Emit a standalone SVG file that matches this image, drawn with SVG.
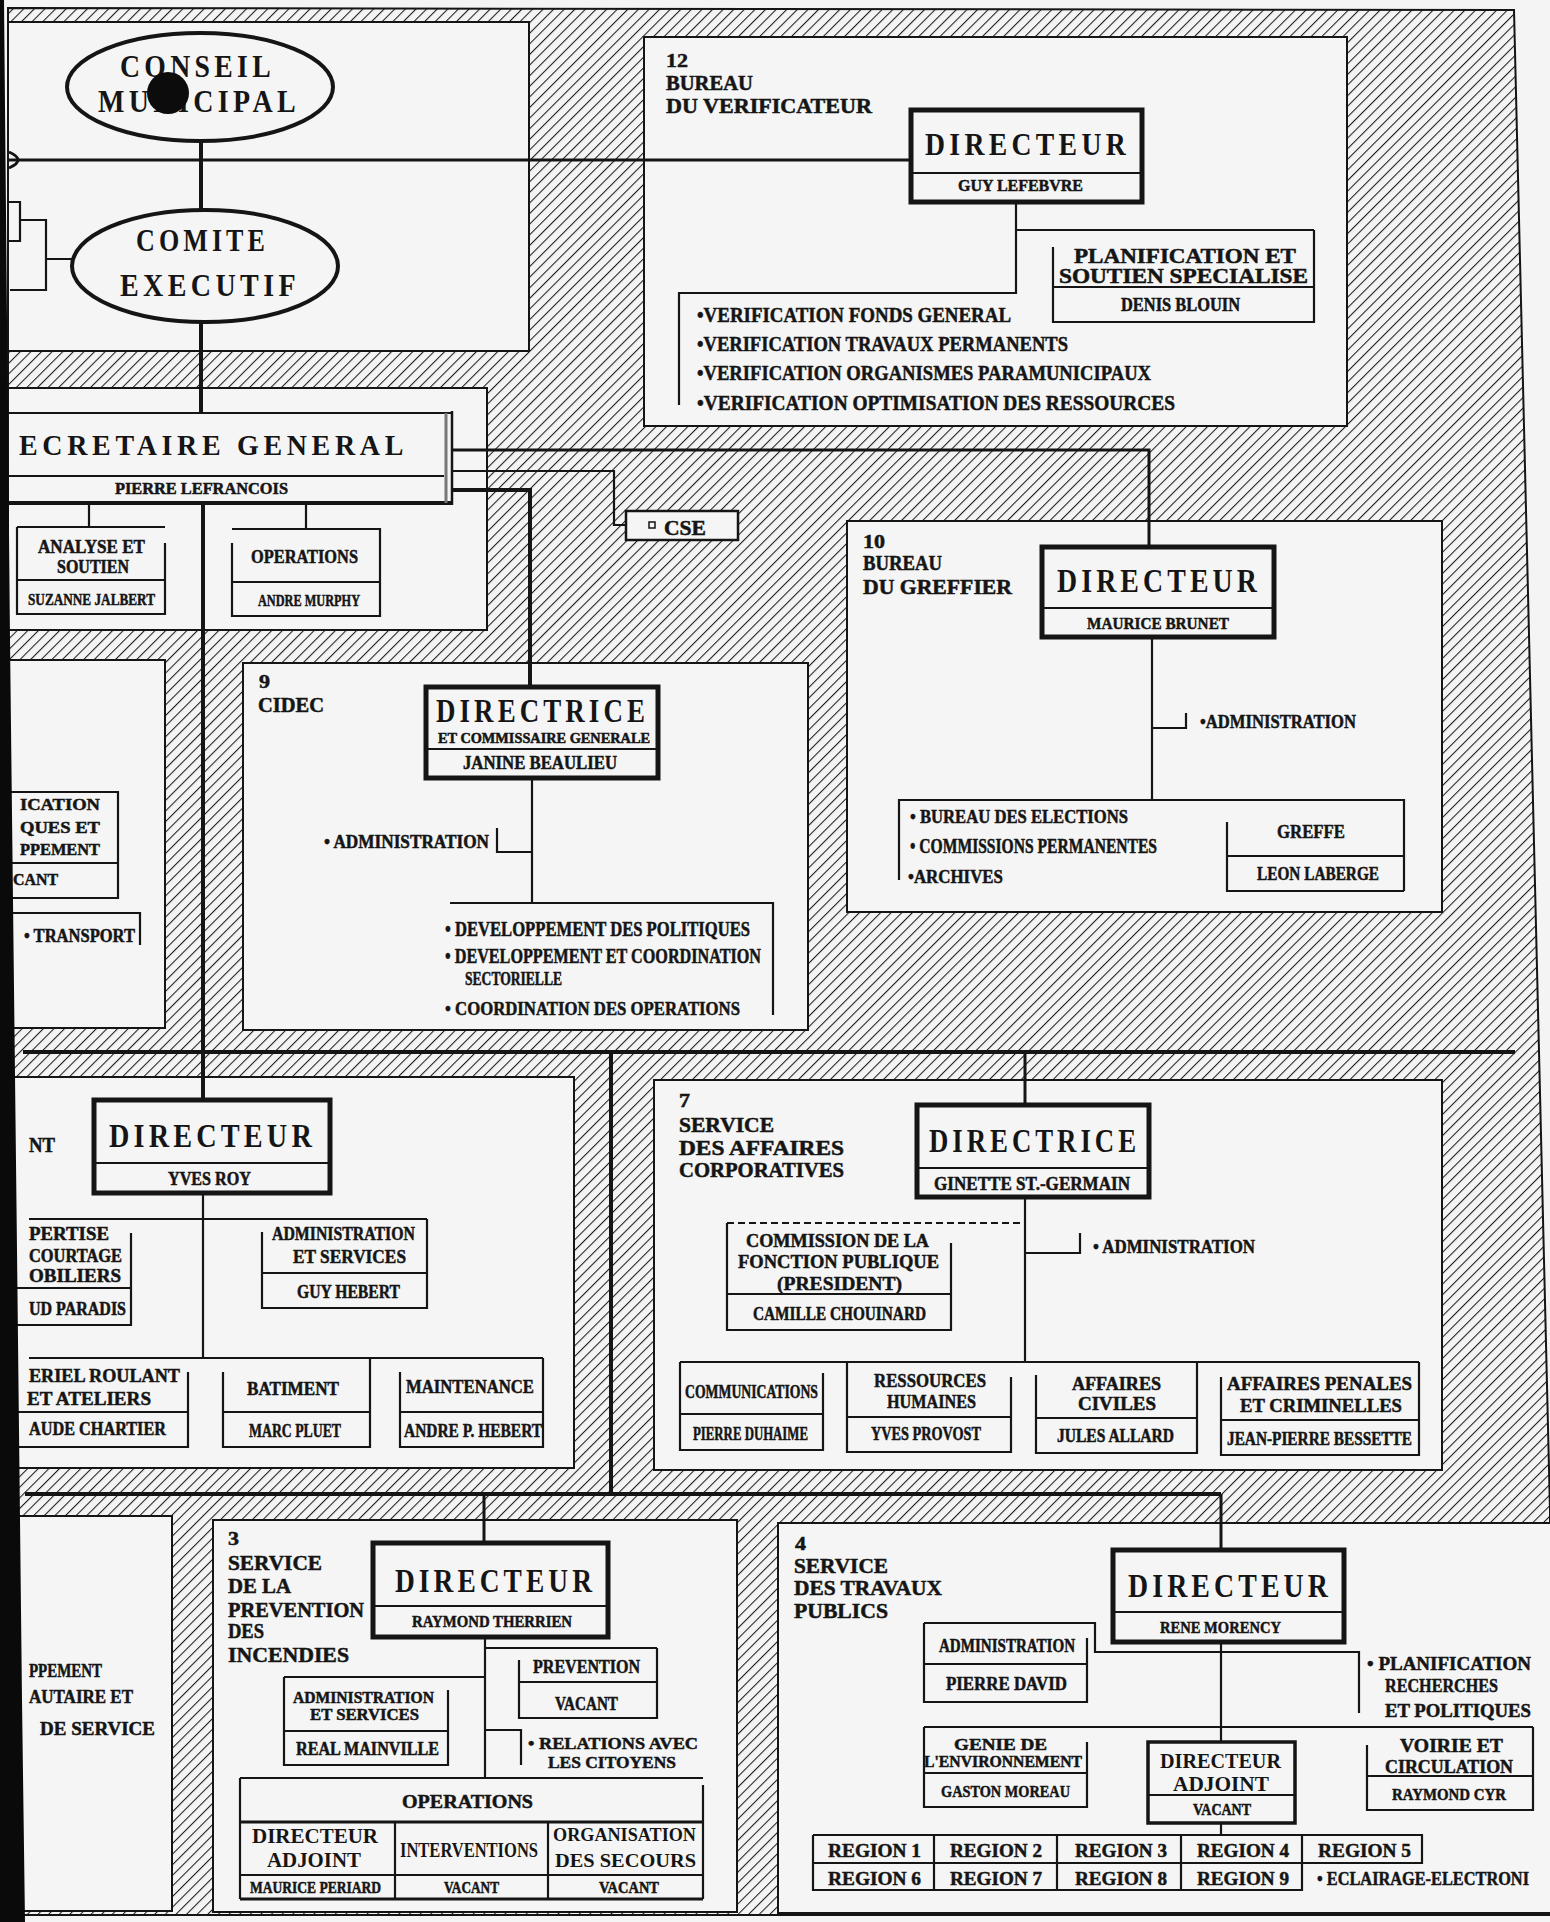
<svg xmlns="http://www.w3.org/2000/svg" width="1550" height="1922" viewBox="0 0 1550 1922">
<defs>
<pattern id="hatch" width="7.5" height="7.5" patternUnits="userSpaceOnUse" patternTransform="rotate(45)">
<line x1="0" y1="-1" x2="0" y2="9" stroke="#1c1c1c" stroke-width="2.1"/>
</pattern>
<style>
.t{font-family:"Liberation Serif","DejaVu Serif",serif;font-weight:bold;fill:#151515}
.bg{letter-spacing:5px}
.s{stroke:#151515;stroke-width:0.5}
.ln{fill:none;stroke:#151515;stroke-width:2.2}
.th{fill:none;stroke:#151515;stroke-width:4}
.md{fill:none;stroke:#151515;stroke-width:3}
.bx{fill:none;stroke:#151515;stroke-width:5}
.pn{fill:#f5f5f5;stroke:#151515;stroke-width:2}
.dash{fill:none;stroke:#151515;stroke-width:2.2;stroke-dasharray:7 4}
</style>
</defs>
<rect x="0" y="0" width="1550" height="1922" fill="#f4f4f4"/>
<g id="background">
<polygon points="8,8 1514,10 1550,1510 1550,1915 8,1915" fill="url(#hatch)" stroke="#151515" stroke-width="2"/>
<rect id="panel-council" class="pn" x="8" y="22" width="521" height="329"/>
<rect id="panel-12" class="pn" x="644" y="37" width="703" height="389"/>
<rect id="panel-secretariat" class="pn" x="8" y="388" width="479" height="242"/>
<rect id="panel-10" class="pn" x="847" y="521" width="595" height="391"/>
<rect id="panel-left" class="pn" x="8" y="660" width="157" height="368"/>
<rect id="panel-9" class="pn" x="243" y="663" width="565" height="367"/>
<rect id="panel-yvesroy" class="pn" x="8" y="1077" width="566" height="391"/>
<rect id="panel-7" class="pn" x="654" y="1080" width="788" height="390"/>
<rect id="panel-bottomleft" class="pn" x="8" y="1516" width="164" height="395"/>
<rect id="panel-3" class="pn" x="213" y="1520" width="524" height="392"/>
<rect id="panel-4" class="pn" x="778" y="1523" width="780" height="390"/>
</g>

<g id="connectors">
<path class="th" d="M201 141 V210 M201 322 V413"/>
<path class="md" d="M8 160 H911"/>
<path class="md" d="M9 152 Q27 160 9 168"/>
<path class="ln" d="M8 202 H20 V241 H8 M20 220 H46 V290 H10 M46 259 H73"/>
<path class="th" d="M203 503 V1100"/>
<path class="md" d="M453 450 H1149 V547"/>
<path class="ln" d="M453 471 H614 V525 H626"/>
<path class="th" d="M453 490 H530 V687"/>
<path class="th" d="M23 1052 H1515"/>
<path class="th" d="M611 1052 V1494"/>
<path class="md" d="M1025 1052 V1105"/>
<path class="th" d="M25 1494 H1221"/>
<path class="md" d="M484 1494 V1543"/>
<path class="md" d="M1221 1494 V1550"/>
<path class="ln" d="M1016 202 V293 H679 V405 M1016 230 H1314"/>
<path class="ln" d="M1152 637 V800 M1152 728 H1186 V713 M899 880 V800 H1404 V891"/>
<path class="ln" d="M532 778 V903 M532 852 H497 V828 M450 903 H773 V1015"/>
<path class="ln" d="M203 1193 V1358 M29 1219 H427 M29 1358 H543"/>
<path class="ln" d="M1025 1197 V1362 M1025 1253 H1080 V1233 M680 1362 H1419"/>
<path class="dash" d="M727 1223 H1025"/>
<path class="ln" d="M485 1637 V1778 M485 1648 H657 M485 1677 H284 M485 1730 H521 V1765"/>
<path class="ln" d="M924 1623 H1095 V1652 H1359 V1713 M1221 1642 V1742 M924 1727 H1533 M1221 1823 V1835"/>
</g>

<g id="conseil-municipal">
<ellipse cx="200" cy="87" rx="133" ry="54" fill="#f5f5f5" stroke="#151515" stroke-width="4"/>
<text class="t bg" x="120" y="77" font-size="32" textLength="155" lengthAdjust="spacingAndGlyphs">CONSEIL</text>
<text class="t bg" x="98" y="112" font-size="32" textLength="202" lengthAdjust="spacingAndGlyphs">MUNICIPAL</text>
<circle cx="168" cy="93" r="21" fill="#0c0c0c"/>
</g>
<g id="comite-executif">
<ellipse cx="205" cy="266" rx="133" ry="56" fill="#f5f5f5" stroke="#151515" stroke-width="4"/>
<text class="t bg" x="136" y="251" font-size="32" textLength="133" lengthAdjust="spacingAndGlyphs">COMITE</text>
<text class="t bg" x="120" y="296" font-size="32" textLength="180" lengthAdjust="spacingAndGlyphs">EXECUTIF</text>
</g>

<g id="secretaire-general">
<path class="ln" d="M8 413 H451 M8 476 H444"/>
<path d="M8 503 H452" class="th"/>
<path d="M446 413 V503" stroke="#777" stroke-width="3" fill="none"/>
<path d="M452 411 V505" stroke="#151515" stroke-width="2.5" fill="none"/>
<text class="t bg" x="19" y="455" font-size="30" textLength="389" lengthAdjust="spacingAndGlyphs">ECRETAIRE GENERAL</text>
<text class="t s" x="115" y="494" font-size="16" textLength="173" lengthAdjust="spacingAndGlyphs">PIERRE LEFRANCOIS</text>
</g>
<g id="analyse-soutien">
<path class="ln" d="M89 503 V527 M17 527 H165 M165 543 V614 H17 V527 M17 580 H165"/>
<text class="t s" x="38" y="553" font-size="18" textLength="107" lengthAdjust="spacingAndGlyphs">ANALYSE ET</text>
<text class="t s" x="57" y="573" font-size="18" textLength="72" lengthAdjust="spacingAndGlyphs">SOUTIEN</text>
<text class="t s" x="28" y="605" font-size="17" textLength="127" lengthAdjust="spacingAndGlyphs">SUZANNE JALBERT</text>
</g>
<g id="operations-sg">
<path class="ln" d="M306 503 V529 M232 529 H380 V616 H232 V543 M232 582 H380"/>
<text class="t s" x="251" y="563" font-size="19" textLength="107" lengthAdjust="spacingAndGlyphs">OPERATIONS</text>
<text class="t s" x="258" y="606" font-size="17" textLength="102" lengthAdjust="spacingAndGlyphs">ANDRE MURPHY</text>
</g>
<g id="cse">
<rect x="626" y="511" width="112" height="29" fill="#f5f5f5" stroke="#151515" stroke-width="2.5"/>
<rect x="649" y="522" width="6" height="6" fill="none" stroke="#151515" stroke-width="1.5"/>
<text class="t s" x="664" y="535" font-size="20" textLength="42" lengthAdjust="spacingAndGlyphs">CSE</text>
</g>

<g id="bureau-verificateur">
<text class="t s" x="666" y="67" font-size="19" textLength="22" lengthAdjust="spacingAndGlyphs">12</text>
<text class="t s" x="666" y="90" font-size="20" textLength="87" lengthAdjust="spacingAndGlyphs">BUREAU</text>
<text class="t s" x="666" y="113" font-size="20" textLength="206" lengthAdjust="spacingAndGlyphs">DU VERIFICATEUR</text>
<text class="t s" x="697" y="322" font-size="21" textLength="314" lengthAdjust="spacingAndGlyphs">•VERIFICATION FONDS GENERAL</text>
<text class="t s" x="697" y="351" font-size="21" textLength="371" lengthAdjust="spacingAndGlyphs">•VERIFICATION TRAVAUX PERMANENTS</text>
<text class="t s" x="697" y="380" font-size="21" textLength="454" lengthAdjust="spacingAndGlyphs">•VERIFICATION ORGANISMES PARAMUNICIPAUX</text>
<text class="t s" x="697" y="410" font-size="21" textLength="478" lengthAdjust="spacingAndGlyphs">•VERIFICATION OPTIMISATION DES RESSOURCES</text>
</g>
<g id="directeur-12">
<rect class="bx" x="911" y="110" width="231" height="92" fill="#f5f5f5"/>
<path class="ln" d="M911 173 H1142"/>
<text class="t bg" x="925" y="155" font-size="32" textLength="205" lengthAdjust="spacingAndGlyphs">DIRECTEUR</text>
<text class="t s" x="958" y="191" font-size="17" textLength="125" lengthAdjust="spacingAndGlyphs">GUY LEFEBVRE</text>
</g>
<g id="planification-soutien">
<path class="ln" d="M1053 247 V322 H1314 V230 M1053 287 H1314"/>
<text class="t s" x="1074" y="263" font-size="20" textLength="222" lengthAdjust="spacingAndGlyphs">PLANIFICATION ET</text>
<text class="t s" x="1059" y="283" font-size="20" textLength="249" lengthAdjust="spacingAndGlyphs">SOUTIEN SPECIALISE</text>
<text class="t s" x="1121" y="311" font-size="18" textLength="119" lengthAdjust="spacingAndGlyphs">DENIS BLOUIN</text>
</g>

<g id="bureau-greffier">
<text class="t s" x="863" y="548" font-size="19" textLength="22" lengthAdjust="spacingAndGlyphs">10</text>
<text class="t s" x="863" y="570" font-size="20" textLength="79" lengthAdjust="spacingAndGlyphs">BUREAU</text>
<text class="t s" x="863" y="594" font-size="20" textLength="149" lengthAdjust="spacingAndGlyphs">DU GREFFIER</text>
<text class="t s" x="1200" y="728" font-size="19" textLength="156" lengthAdjust="spacingAndGlyphs">•ADMINISTRATION</text>
<text class="t s" x="910" y="823" font-size="19" textLength="218" lengthAdjust="spacingAndGlyphs">• BUREAU DES ELECTIONS</text>
<text class="t s" x="910" y="853" font-size="20" textLength="247" lengthAdjust="spacingAndGlyphs">• COMMISSIONS PERMANENTES</text>
<text class="t s" x="908" y="883" font-size="19" textLength="95" lengthAdjust="spacingAndGlyphs">•ARCHIVES</text>
</g>
<g id="directeur-10">
<rect class="bx" x="1042" y="547" width="232" height="90" fill="#f5f5f5"/>
<path class="ln" d="M1042 608 H1274"/>
<text class="t bg" x="1057" y="592" font-size="34" textLength="204" lengthAdjust="spacingAndGlyphs">DIRECTEUR</text>
<text class="t s" x="1087" y="629" font-size="17" textLength="142" lengthAdjust="spacingAndGlyphs">MAURICE BRUNET</text>
</g>
<g id="greffe">
<path class="ln" d="M1227 822 V891 H1404 M1227 856 H1404"/>
<text class="t s" x="1277" y="838" font-size="19" textLength="68" lengthAdjust="spacingAndGlyphs">GREFFE</text>
<text class="t s" x="1257" y="880" font-size="19" textLength="122" lengthAdjust="spacingAndGlyphs">LEON LABERGE</text>
</g>

<g id="left-partial">
<path class="ln" d="M8 792 H118 V898 H8 M8 863 H118 M8 913 H140 V945"/>
<text class="t s" x="20" y="810" font-size="17" textLength="80" lengthAdjust="spacingAndGlyphs">ICATION</text>
<text class="t s" x="20" y="833" font-size="17" textLength="80" lengthAdjust="spacingAndGlyphs">QUES ET</text>
<text class="t s" x="20" y="855" font-size="17" textLength="80" lengthAdjust="spacingAndGlyphs">PPEMENT</text>
<text class="t s" x="13" y="885" font-size="17" textLength="45" lengthAdjust="spacingAndGlyphs">CANT</text>
<text class="t s" x="24" y="942" font-size="18" textLength="111" lengthAdjust="spacingAndGlyphs">• TRANSPORT</text>
</g>

<g id="cidec">
<text class="t s" x="259" y="688" font-size="19" textLength="11" lengthAdjust="spacingAndGlyphs">9</text>
<text class="t s" x="258" y="712" font-size="20" textLength="66" lengthAdjust="spacingAndGlyphs">CIDEC</text>
<text class="t s" x="324" y="848" font-size="18" textLength="165" lengthAdjust="spacingAndGlyphs">• ADMINISTRATION</text>
<text class="t s" x="445" y="936" font-size="20" textLength="305" lengthAdjust="spacingAndGlyphs">• DEVELOPPEMENT DES POLITIQUES</text>
<text class="t s" x="445" y="963" font-size="20" textLength="316" lengthAdjust="spacingAndGlyphs">• DEVELOPPEMENT ET COORDINATION</text>
<text class="t s" x="465" y="985" font-size="18" textLength="97" lengthAdjust="spacingAndGlyphs">SECTORIELLE</text>
<text class="t s" x="445" y="1015" font-size="19" textLength="295" lengthAdjust="spacingAndGlyphs">• COORDINATION DES OPERATIONS</text>
</g>
<g id="directrice-9">
<rect class="bx" x="426" y="687" width="232" height="91" fill="#f5f5f5"/>
<path class="ln" d="M426 749 H658"/>
<text class="t bg" x="436" y="722" font-size="33" textLength="213" lengthAdjust="spacingAndGlyphs">DIRECTRICE</text>
<text class="t s" x="438" y="743" font-size="14" textLength="212" lengthAdjust="spacingAndGlyphs">ET COMMISSAIRE GENERALE</text>
<text class="t s" x="463" y="769" font-size="18" textLength="154" lengthAdjust="spacingAndGlyphs">JANINE BEAULIEU</text>
</g>

<g id="service-yvesroy">
<text class="t s" x="29" y="1152" font-size="20" textLength="26" lengthAdjust="spacingAndGlyphs">NT</text>
</g>
<g id="directeur-yvesroy">
<rect class="bx" x="94" y="1100" width="236" height="93" fill="#f5f5f5"/>
<path class="ln" d="M94 1163 H330"/>
<text class="t bg" x="109" y="1147" font-size="34" textLength="207" lengthAdjust="spacingAndGlyphs">DIRECTEUR</text>
<text class="t s" x="168" y="1185" font-size="18" textLength="83" lengthAdjust="spacingAndGlyphs">YVES ROY</text>
</g>
<g id="expertise-courtage">
<path class="ln" d="M131 1233 V1325 H8 M8 1288 H131"/>
<text class="t s" x="29" y="1240" font-size="18" textLength="80" lengthAdjust="spacingAndGlyphs">PERTISE</text>
<text class="t s" x="29" y="1262" font-size="18" textLength="93" lengthAdjust="spacingAndGlyphs">COURTAGE</text>
<text class="t s" x="29" y="1282" font-size="18" textLength="92" lengthAdjust="spacingAndGlyphs">OBILIERS</text>
<text class="t s" x="29" y="1315" font-size="18" textLength="97" lengthAdjust="spacingAndGlyphs">UD PARADIS</text>
</g>
<g id="administration-services-yr">
<path class="ln" d="M262 1232 V1308 H427 V1219 M262 1273 H427"/>
<text class="t s" x="272" y="1240" font-size="19" textLength="143" lengthAdjust="spacingAndGlyphs">ADMINISTRATION</text>
<text class="t s" x="293" y="1263" font-size="19" textLength="113" lengthAdjust="spacingAndGlyphs">ET SERVICES</text>
<text class="t s" x="297" y="1298" font-size="19" textLength="103" lengthAdjust="spacingAndGlyphs">GUY HEBERT</text>
</g>
<g id="materiel-roulant">
<path class="ln" d="M188 1372 V1447 H8 M8 1412 H188"/>
<text class="t s" x="29" y="1382" font-size="19" textLength="151" lengthAdjust="spacingAndGlyphs">ERIEL ROULANT</text>
<text class="t s" x="27" y="1405" font-size="19" textLength="124" lengthAdjust="spacingAndGlyphs">ET ATELIERS</text>
<text class="t s" x="29" y="1435" font-size="19" textLength="137" lengthAdjust="spacingAndGlyphs">AUDE CHARTIER</text>
</g>
<g id="batiment">
<path class="ln" d="M223 1372 V1447 H370 V1358 M223 1412 H370"/>
<text class="t s" x="247" y="1395" font-size="19" textLength="92" lengthAdjust="spacingAndGlyphs">BATIMENT</text>
<text class="t s" x="249" y="1437" font-size="19" textLength="92" lengthAdjust="spacingAndGlyphs">MARC PLUET</text>
</g>
<g id="maintenance">
<path class="ln" d="M400 1372 V1447 H543 V1358 M400 1412 H543"/>
<text class="t s" x="406" y="1393" font-size="19" textLength="128" lengthAdjust="spacingAndGlyphs">MAINTENANCE</text>
<text class="t s" x="404" y="1437" font-size="19" textLength="138" lengthAdjust="spacingAndGlyphs">ANDRE P. HEBERT</text>
</g>

<g id="service-affaires-corporatives">
<text class="t s" x="679" y="1107" font-size="19" textLength="11" lengthAdjust="spacingAndGlyphs">7</text>
<text class="t s" x="679" y="1132" font-size="20" textLength="95" lengthAdjust="spacingAndGlyphs">SERVICE</text>
<text class="t s" x="679" y="1155" font-size="20" textLength="165" lengthAdjust="spacingAndGlyphs">DES AFFAIRES</text>
<text class="t s" x="679" y="1177" font-size="20" textLength="165" lengthAdjust="spacingAndGlyphs">CORPORATIVES</text>
<text class="t s" x="1093" y="1253" font-size="19" textLength="162" lengthAdjust="spacingAndGlyphs">• ADMINISTRATION</text>
</g>
<g id="directrice-7">
<rect class="bx" x="917" y="1105" width="232" height="92" fill="#f5f5f5"/>
<path class="ln" d="M917 1168 H1149"/>
<text class="t bg" x="929" y="1152" font-size="34" textLength="211" lengthAdjust="spacingAndGlyphs">DIRECTRICE</text>
<text class="t s" x="934" y="1190" font-size="18" textLength="196" lengthAdjust="spacingAndGlyphs">GINETTE ST.-GERMAIN</text>
</g>
<g id="commission-fonction-publique">
<path class="ln" d="M727 1223 V1330 H951 V1243 M727 1294 H951"/>
<text class="t s" x="746" y="1247" font-size="19" textLength="183" lengthAdjust="spacingAndGlyphs">COMMISSION DE LA</text>
<text class="t s" x="738" y="1268" font-size="19" textLength="201" lengthAdjust="spacingAndGlyphs">FONCTION PUBLIQUE</text>
<text class="t s" x="777" y="1290" font-size="19" textLength="125" lengthAdjust="spacingAndGlyphs">(PRESIDENT)</text>
<text class="t s" x="753" y="1320" font-size="19" textLength="173" lengthAdjust="spacingAndGlyphs">CAMILLE CHOUINARD</text>
</g>
<g id="communications">
<path class="ln" d="M680 1362 V1450 H823 V1373 M680 1414 H823"/>
<text class="t s" x="685" y="1398" font-size="18" textLength="133" lengthAdjust="spacingAndGlyphs">COMMUNICATIONS</text>
<text class="t s" x="693" y="1440" font-size="18" textLength="115" lengthAdjust="spacingAndGlyphs">PIERRE DUHAIME</text>
</g>
<g id="ressources-humaines">
<path class="ln" d="M847 1362 V1452 H1011 V1377 M847 1417 H1011"/>
<text class="t s" x="874" y="1387" font-size="19" textLength="112" lengthAdjust="spacingAndGlyphs">RESSOURCES</text>
<text class="t s" x="887" y="1408" font-size="19" textLength="89" lengthAdjust="spacingAndGlyphs">HUMAINES</text>
<text class="t s" x="871" y="1440" font-size="18" textLength="110" lengthAdjust="spacingAndGlyphs">YVES PROVOST</text>
</g>
<g id="affaires-civiles">
<path class="ln" d="M1036 1375 V1453 H1197 V1362 M1036 1418 H1197"/>
<text class="t s" x="1072" y="1390" font-size="18" textLength="89" lengthAdjust="spacingAndGlyphs">AFFAIRES</text>
<text class="t s" x="1078" y="1410" font-size="18" textLength="78" lengthAdjust="spacingAndGlyphs">CIVILES</text>
<text class="t s" x="1057" y="1442" font-size="18" textLength="117" lengthAdjust="spacingAndGlyphs">JULES ALLARD</text>
</g>
<g id="affaires-penales">
<path class="ln" d="M1221 1377 V1455 H1419 V1362 M1221 1420 H1419"/>
<text class="t s" x="1227" y="1390" font-size="19" textLength="185" lengthAdjust="spacingAndGlyphs">AFFAIRES PENALES</text>
<text class="t s" x="1240" y="1412" font-size="19" textLength="162" lengthAdjust="spacingAndGlyphs">ET CRIMINELLES</text>
<text class="t s" x="1227" y="1445" font-size="18" textLength="185" lengthAdjust="spacingAndGlyphs">JEAN-PIERRE BESSETTE</text>
</g>

<g id="bottom-left-partial">
<text class="t s" x="29" y="1677" font-size="19" textLength="73" lengthAdjust="spacingAndGlyphs">PPEMENT</text>
<text class="t s" x="29" y="1703" font-size="19" textLength="104" lengthAdjust="spacingAndGlyphs">AUTAIRE ET</text>
<text class="t s" x="40" y="1735" font-size="19" textLength="115" lengthAdjust="spacingAndGlyphs">DE SERVICE</text>
</g>

<g id="service-prevention-incendies">
<text class="t s" x="228" y="1545" font-size="19" textLength="11" lengthAdjust="spacingAndGlyphs">3</text>
<text class="t s" x="228" y="1570" font-size="20" textLength="94" lengthAdjust="spacingAndGlyphs">SERVICE</text>
<text class="t s" x="228" y="1593" font-size="20" textLength="63" lengthAdjust="spacingAndGlyphs">DE LA</text>
<text class="t s" x="228" y="1617" font-size="20" textLength="136" lengthAdjust="spacingAndGlyphs">PREVENTION</text>
<text class="t s" x="228" y="1638" font-size="20" textLength="36" lengthAdjust="spacingAndGlyphs">DES</text>
<text class="t s" x="228" y="1662" font-size="20" textLength="121" lengthAdjust="spacingAndGlyphs">INCENDIES</text>
<text class="t s" x="528" y="1749" font-size="17" textLength="170" lengthAdjust="spacingAndGlyphs">• RELATIONS AVEC</text>
<text class="t s" x="548" y="1768" font-size="17" textLength="128" lengthAdjust="spacingAndGlyphs">LES CITOYENS</text>
</g>
<g id="directeur-3">
<rect class="bx" x="373" y="1543" width="235" height="94" fill="#f5f5f5"/>
<path class="ln" d="M373 1606 H608"/>
<text class="t bg" x="395" y="1592" font-size="34" textLength="201" lengthAdjust="spacingAndGlyphs">DIRECTEUR</text>
<text class="t s" x="412" y="1627" font-size="17" textLength="160" lengthAdjust="spacingAndGlyphs">RAYMOND THERRIEN</text>
</g>
<g id="prevention">
<path class="ln" d="M519 1660 V1718 H657 V1648 M519 1682 H657"/>
<text class="t s" x="533" y="1673" font-size="19" textLength="107" lengthAdjust="spacingAndGlyphs">PREVENTION</text>
<text class="t s" x="555" y="1710" font-size="19" textLength="63" lengthAdjust="spacingAndGlyphs">VACANT</text>
</g>
<g id="administration-services-3">
<path class="ln" d="M284 1677 V1765 H448 V1690 M284 1731 H448"/>
<text class="t s" x="293" y="1703" font-size="16" textLength="141" lengthAdjust="spacingAndGlyphs">ADMINISTRATION</text>
<text class="t s" x="310" y="1720" font-size="16" textLength="109" lengthAdjust="spacingAndGlyphs">ET SERVICES</text>
<text class="t s" x="296" y="1755" font-size="18" textLength="143" lengthAdjust="spacingAndGlyphs">REAL MAINVILLE</text>
</g>
<g id="operations-3">
<path class="ln" d="M240 1778 H703 M240 1778 V1899 M703 1785 V1899 M395 1822 V1899 M548 1822 V1899 M240 1875 H703"/>
<path class="md" d="M240 1822 H703 M240 1899 H703"/>
<text class="t s" x="402" y="1808" font-size="19" textLength="131" lengthAdjust="spacingAndGlyphs">OPERATIONS</text>
<text class="t" x="252" y="1843" font-size="20" textLength="126" lengthAdjust="spacingAndGlyphs">DIRECTEUR</text>
<text class="t" x="267" y="1867" font-size="20" textLength="94" lengthAdjust="spacingAndGlyphs">ADJOINT</text>
<text class="t s" x="250" y="1893" font-size="16" textLength="131" lengthAdjust="spacingAndGlyphs">MAURICE PERIARD</text>
<text class="t" x="400" y="1857" font-size="20" textLength="138" lengthAdjust="spacingAndGlyphs">INTERVENTIONS</text>
<text class="t s" x="444" y="1893" font-size="16" textLength="55" lengthAdjust="spacingAndGlyphs">VACANT</text>
<text class="t" x="553" y="1841" font-size="18" textLength="143" lengthAdjust="spacingAndGlyphs">ORGANISATION</text>
<text class="t" x="555" y="1867" font-size="18" textLength="141" lengthAdjust="spacingAndGlyphs">DES SECOURS</text>
<text class="t s" x="599" y="1893" font-size="16" textLength="60" lengthAdjust="spacingAndGlyphs">VACANT</text>
</g>

<g id="service-travaux-publics">
<text class="t s" x="795" y="1550" font-size="19" textLength="11" lengthAdjust="spacingAndGlyphs">4</text>
<text class="t s" x="794" y="1573" font-size="20" textLength="94" lengthAdjust="spacingAndGlyphs">SERVICE</text>
<text class="t s" x="794" y="1595" font-size="20" textLength="148" lengthAdjust="spacingAndGlyphs">DES TRAVAUX</text>
<text class="t s" x="794" y="1618" font-size="20" textLength="94" lengthAdjust="spacingAndGlyphs">PUBLICS</text>
<text class="t s" x="1367" y="1670" font-size="19" textLength="164" lengthAdjust="spacingAndGlyphs">• PLANIFICATION</text>
<text class="t s" x="1385" y="1692" font-size="19" textLength="113" lengthAdjust="spacingAndGlyphs">RECHERCHES</text>
<text class="t s" x="1385" y="1717" font-size="19" textLength="146" lengthAdjust="spacingAndGlyphs">ET POLITIQUES</text>
</g>
<g id="directeur-4">
<rect class="bx" x="1113" y="1550" width="231" height="92" fill="#f5f5f5"/>
<path class="ln" d="M1113 1612 H1344"/>
<text class="t bg" x="1128" y="1597" font-size="34" textLength="204" lengthAdjust="spacingAndGlyphs">DIRECTEUR</text>
<text class="t s" x="1160" y="1633" font-size="17" textLength="121" lengthAdjust="spacingAndGlyphs">RENE MORENCY</text>
</g>
<g id="administration-4">
<path class="ln" d="M924 1623 V1702 H1087 V1638 M924 1664 H1087"/>
<text class="t s" x="939" y="1652" font-size="18" textLength="136" lengthAdjust="spacingAndGlyphs">ADMINISTRATION</text>
<text class="t s" x="946" y="1690" font-size="18" textLength="121" lengthAdjust="spacingAndGlyphs">PIERRE DAVID</text>
</g>
<g id="genie-environnement">
<path class="ln" d="M924 1727 V1807 H1087 V1742 M924 1773 H1087"/>
<text class="t s" x="954" y="1750" font-size="16" textLength="93" lengthAdjust="spacingAndGlyphs">GENIE DE</text>
<text class="t s" x="924" y="1767" font-size="16" textLength="158" lengthAdjust="spacingAndGlyphs">L'ENVIRONNEMENT</text>
<text class="t s" x="941" y="1797" font-size="17" textLength="129" lengthAdjust="spacingAndGlyphs">GASTON MOREAU</text>
</g>
<g id="directeur-adjoint-4">
<rect x="1148" y="1742" width="147" height="81" fill="#f5f5f5" stroke="#151515" stroke-width="3.5"/>
<path class="ln" d="M1148 1795 H1295"/>
<text class="t" x="1160" y="1768" font-size="21" textLength="121" lengthAdjust="spacingAndGlyphs">DIRECTEUR</text>
<text class="t" x="1173" y="1791" font-size="21" textLength="96" lengthAdjust="spacingAndGlyphs">ADJOINT</text>
<text class="t s" x="1193" y="1815" font-size="17" textLength="58" lengthAdjust="spacingAndGlyphs">VACANT</text>
</g>
<g id="voirie-circulation">
<path class="ln" d="M1367 1745 V1810 H1533 V1727 M1367 1776 H1533"/>
<text class="t s" x="1400" y="1752" font-size="18" textLength="103" lengthAdjust="spacingAndGlyphs">VOIRIE ET</text>
<text class="t s" x="1385" y="1773" font-size="18" textLength="128" lengthAdjust="spacingAndGlyphs">CIRCULATION</text>
<text class="t s" x="1392" y="1800" font-size="17" textLength="114" lengthAdjust="spacingAndGlyphs">RAYMOND CYR</text>
</g>
<g id="regions">
<path class="ln" d="M813 1835 H1422 V1863 H813 M813 1835 V1890 H1302 V1835 M934 1835 V1890 M1057 1835 V1890 M1181 1835 V1890"/>
<text class="t s" x="828" y="1857" font-size="19" textLength="93" lengthAdjust="spacingAndGlyphs">REGION 1</text>
<text class="t s" x="950" y="1857" font-size="19" textLength="92" lengthAdjust="spacingAndGlyphs">REGION 2</text>
<text class="t s" x="1075" y="1857" font-size="19" textLength="92" lengthAdjust="spacingAndGlyphs">REGION 3</text>
<text class="t s" x="1197" y="1857" font-size="19" textLength="92" lengthAdjust="spacingAndGlyphs">REGION 4</text>
<text class="t s" x="1318" y="1857" font-size="19" textLength="93" lengthAdjust="spacingAndGlyphs">REGION 5</text>
<text class="t s" x="828" y="1885" font-size="19" textLength="93" lengthAdjust="spacingAndGlyphs">REGION 6</text>
<text class="t s" x="950" y="1885" font-size="19" textLength="92" lengthAdjust="spacingAndGlyphs">REGION 7</text>
<text class="t s" x="1075" y="1885" font-size="19" textLength="92" lengthAdjust="spacingAndGlyphs">REGION 8</text>
<text class="t s" x="1197" y="1885" font-size="19" textLength="92" lengthAdjust="spacingAndGlyphs">REGION 9</text>
<text class="t s" x="1317" y="1885" font-size="19" textLength="212" lengthAdjust="spacingAndGlyphs">• ECLAIRAGE-ELECTRONI</text>
</g>

<polygon id="left-edge" points="0,0 4,0 10,640 17,1250 22,1700 25,1922 0,1922" fill="#0a0a0a"/>
</svg>
